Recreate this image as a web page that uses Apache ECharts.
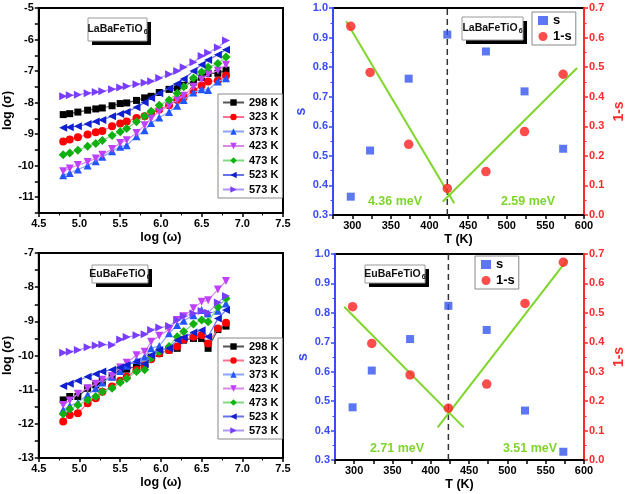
<!DOCTYPE html>
<html><head><meta charset="utf-8">
<script src="https://cdn.jsdelivr.net/npm/echarts@6/dist/echarts.min.js"></script>
<style>html,body{margin:0;padding:0;background:#fff}#c{width:628px;height:494px}</style>
</head><body><div id="c"></div>
<script>
// ---------- data ----------
const logW = [4.8,4.88,4.98,5.1,5.2,5.28,5.4,5.5,5.58,5.7,5.8,5.88,5.98,6.1,6.2,6.28,6.4,6.5,6.58,6.7,6.8];
const tempLabels = ['298 K','323 K','373 K','423 K','473 K','523 K','573 K'];
// LaBaFeTiO6 log(sigma)
const la298 = [-8.38,-8.35,-8.3,-8.24,-8.2,-8.17,-8.1,-8.03,-8.01,-7.93,-7.85,-7.8,-7.68,-7.58,-7.52,-7.45,-7.35,-7.2,-7.07,-7.07,-6.97];
const la323 = [-9.23,-9.17,-9.1,-9.01,-8.94,-8.9,-8.75,-8.66,-8.6,-8.49,-8.43,-8.35,-8.22,-8.08,-7.92,-7.83,-7.62,-7.46,-7.33,-7.3,-7.14];
const la373 = [-10.3,-10.23,-10.12,-9.99,-9.86,-9.72,-9.54,-9.4,-9.35,-9.07,-8.88,-8.65,-8.47,-8.3,-8.1,-7.92,-7.68,-7.58,-7.6,-7.33,-7.23];
const la423 = [-10.18,-10.09,-9.98,-9.88,-9.77,-9.65,-9.47,-9.28,-9.19,-8.96,-8.72,-8.5,-8.28,-8.1,-7.92,-7.78,-7.5,-7.27,-7.1,-6.98,-6.8];
const la473 = [-9.65,-9.6,-9.51,-9.38,-9.3,-9.2,-9.04,-8.92,-8.82,-8.61,-8.43,-8.27,-8.08,-7.92,-7.7,-7.5,-7.22,-7.03,-6.88,-6.76,-6.55];
const la523 = [-8.8,-8.78,-8.75,-8.68,-8.6,-8.55,-8.43,-8.36,-8.3,-8.15,-8.0,-7.85,-7.7,-7.55,-7.4,-7.25,-7.0,-6.8,-6.65,-6.48,-6.32];
const la573 = [-7.8,-7.77,-7.75,-7.7,-7.66,-7.64,-7.58,-7.52,-7.48,-7.42,-7.37,-7.32,-7.22,-7.1,-7.0,-6.88,-6.72,-6.52,-6.42,-6.25,-6.03];
// EuBaFeTiO6 log(sigma)
const eu298 = [-11.3,-11.2,-11.2,-10.96,-10.86,-10.76,-10.62,-10.42,-10.4,-10.31,-10.28,-10.05,-9.94,-9.84,-9.79,-9.55,-9.5,-9.5,-9.79,-9.24,-9.14];
const eu323 = [-11.93,-11.74,-11.69,-11.4,-11.25,-11.06,-10.91,-10.74,-10.62,-10.42,-10.3,-10.11,-9.94,-9.84,-9.74,-9.53,-9.45,-9.4,-9.65,-9.21,-9.04];
const eu373 = [-11.59,-11.47,-11.38,-11.15,-10.96,-10.79,-10.62,-10.45,-10.3,-10.13,-10.04,-9.79,-9.72,-9.35,-9.11,-8.98,-8.82,-8.67,-8.77,-8.69,-8.48];
const eu423 = [-11.45,-11.32,-11.12,-10.96,-10.83,-10.71,-10.6,-10.35,-10.21,-9.99,-9.89,-9.6,-9.42,-9.24,-8.96,-8.85,-8.62,-8.43,-8.38,-8.07,-7.82];
const eu473 = [-11.71,-11.57,-11.45,-11.3,-11.2,-11.06,-10.96,-10.79,-10.67,-10.47,-10.42,-10.08,-9.89,-9.74,-9.45,-9.3,-9.08,-8.96,-9.01,-8.58,-8.33];
const eu523 = [-10.89,-10.83,-10.74,-10.62,-10.54,-10.47,-10.42,-10.35,-10.28,-10.18,-10.25,-9.99,-9.84,-9.79,-9.55,-9.47,-9.33,-9.26,-9.45,-8.92,-8.67];
const eu573 = [-9.92,-9.89,-9.84,-9.76,-9.71,-9.68,-9.69,-9.53,-9.46,-9.41,-9.38,-9.25,-9.18,-9.14,-8.96,-8.85,-8.77,-8.7,-8.75,-8.45,-8.26];
// s and 1-s vs temperature
const temps = [298,323,373,423,473,523,573];
const laS   = [0.362,0.518,0.761,0.91,0.853,0.718,0.524];
const la1mS = [0.638,0.482,0.239,0.09,0.147,0.282,0.476];
const euS   = [0.479,0.604,0.711,0.824,0.742,0.468,0.328];
const eu1mS = [0.521,0.396,0.289,0.176,0.258,0.532,0.672];
// linear fit segments (T, 1-s)
const laFitLow  = [[292,0.655],[432,0.04]];
const laFitHigh = [[417,0.045],[591,0.497]];
const euFitLow  = [[287,0.521],[443,0.111]];
const euFitHigh = [[409,0.111],[578,0.68]];
const transitionT = 423;
const energyLabels = ['4.36 meV','2.59 meV','2.71 meV','3.51 meV'];

// ---------- styles ----------
const FONT = "'Liberation Sans', Arial, sans-serif";
const BLUE = '#3a4bff', RED = '#ff2a2a', GREEN = '#7fd62a';
const seriesStyle = [
  {sym:'rect', rot:0, c:'#000000', l:'#555555', size:7},
  {sym:'circle', rot:0, c:'#ff0000', l:'#ff7090', size:8},
  {sym:'triangle', rot:0, c:'#2255ff', l:'#8ea2ff', size:8},
  {sym:'triangle', rot:180, c:'#c040ff', l:'#d88ae8', size:8},
  {sym:'diamond', rot:0, c:'#10b010', l:'#80d880', size:9},
  {sym:'triangle', rot:90, c:'#1020d0', l:'#6a74e6', size:8},
  {sym:'triangle', rot:-90, c:'#7a3cff', l:'#ae98ff', size:8}
];
const laSets = [la298,la323,la373,la423,la473,la523,la573];
const euSets = [eu298,eu323,eu373,eu423,eu473,eu523,eu573];

const lbl = {fontFamily:FONT, fontWeight:'bold', fontSize:11, color:'#000'};
const nameStyle = {fontFamily:FONT, fontWeight:'bold', fontSize:12.5, color:'#000'};
const isInt = v => Math.abs(v - Math.round(v)) < 1e-6;

function logXAxis(grid){
  return {type:'value', gridIndex:grid, min:4.5, max:7.5, interval:0.5,
    name:'log (ω)', nameLocation:'middle', nameGap:18, nameTextStyle:nameStyle,
    axisLine:{onZero:false, lineStyle:{color:'#000', width:2}},
    axisTick:{length:4, lineStyle:{color:'#000', width:1.5}},
    minorTick:{show:true, splitNumber:2, length:2.5, lineStyle:{color:'#000', width:1}},
    axisLabel:{...lbl, margin:5, formatter:v=>v.toFixed(1)},
    splitLine:{show:false}};
}
function tXAxis(grid){
  return {type:'value', gridIndex:grid, min:275, max:600, interval:25,
    name:'T (K)', nameLocation:'middle', nameGap:18, nameTextStyle:nameStyle,
    axisLine:{onZero:false, lineStyle:{color:'#000', width:2}},
    axisTick:{length:4, lineStyle:{color:'#000', width:1.5}},
    axisLabel:{...lbl, margin:5, formatter:v=>(Math.round(v)%50===0?String(Math.round(v)):'')},
    splitLine:{show:false}};
}
function sigmaYAxis(grid, min, max){
  return {type:'value', gridIndex:grid, min:min, max:max, interval:0.5,
    name:'log (σ)', nameLocation:'middle', nameGap:21, nameTextStyle:nameStyle,
    axisLine:{onZero:false, lineStyle:{color:'#000', width:2}},
    axisTick:{length:4, lineStyle:{color:'#000', width:1.5}},
    axisLabel:{...lbl, margin:5, formatter:v=>(isInt(v)?String(Math.round(v)):'')},
    splitLine:{show:false}};
}
function sYAxis(grid){
  return {type:'value', gridIndex:grid, position:'left', min:0.3, max:1.0, interval:0.1,
    name:'s', nameLocation:'middle', nameGap:25, nameRotate:90, nameTextStyle:{...nameStyle, color:BLUE, fontSize:14},
    axisLine:{onZero:false, lineStyle:{color:BLUE, width:2}},
    axisTick:{length:4, lineStyle:{color:BLUE, width:1.5}},
    minorTick:{show:true, splitNumber:2, length:2.5, lineStyle:{color:BLUE, width:1}},
    axisLabel:{...lbl, color:BLUE, margin:5, formatter:v=>v.toFixed(1)},
    splitLine:{show:false}};
}
function oneMinusSYAxis(grid){
  return {type:'value', gridIndex:grid, position:'right', min:0, max:0.7, interval:0.1,
    name:'1-s', nameLocation:'middle', nameGap:28, nameRotate:90, nameTextStyle:{...nameStyle, color:RED, fontSize:14},
    axisLine:{onZero:false, lineStyle:{color:RED, width:2}},
    axisTick:{length:4, lineStyle:{color:RED, width:1.5}},
    minorTick:{show:true, splitNumber:2, length:2.5, lineStyle:{color:RED, width:1}},
    axisLabel:{...lbl, color:RED, margin:5, formatter:v=>v.toFixed(1)},
    splitLine:{show:false}};
}

const series = [];
function addSigma(sets, xi, yi){
  sets.forEach((arr, k) => {
    const st = seriesStyle[k];
    series.push({type:'line', name:tempLabels[k], xAxisIndex:xi, yAxisIndex:yi,
      data: logW.map((x,i)=>[x, arr[i]]),
      symbol:st.sym, symbolRotate:st.rot, symbolSize:st.size, showSymbol:true,
      itemStyle:{color:st.c}, lineStyle:{color:st.l, width:1.2}, z:2+k});
  });
}
addSigma(laSets, 0, 0);
addSigma(euSets, 2, 3);

function addS(xi, ys, y1s, sArr, oArr, fitA, fitB){
  series.push({type:'line', xAxisIndex:xi, yAxisIndex:ys, silent:true,
    data:[[transitionT,0.3],[transitionT,1.0]], symbol:'none',
    lineStyle:{color:'#333', width:1.5, type:[6,4]}, z:1});
  series.push({type:'line', xAxisIndex:xi, yAxisIndex:y1s, data:fitA, symbol:'none',
    lineStyle:{color:GREEN, width:2}, z:2});
  series.push({type:'line', xAxisIndex:xi, yAxisIndex:y1s, data:fitB, symbol:'none',
    lineStyle:{color:GREEN, width:2}, z:2});
  series.push({type:'scatter', name:'s', xAxisIndex:xi, yAxisIndex:ys,
    data: temps.map((t,i)=>[t, sArr[i]]), symbol:'rect', symbolSize:8,
    itemStyle:{color:'#3355ee'}, z:4});
  series.push({type:'scatter', name:'1-s', xAxisIndex:xi, yAxisIndex:y1s,
    data: temps.map((t,i)=>[t, oArr[i]]), symbol:'circle', symbolSize:9.5,
    itemStyle:{color:'#ff2020'}, z:4});
}
addS(1, 1, 2, laS, la1mS, laFitLow, laFitHigh);
addS(3, 4, 5, euS, eu1mS, euFitLow, euFitHigh);

function tagBox(x, y, w, h, name){
  return [
    {type:'rect', shape:{x:x+4, y:y+4, width:w, height:h}, style:{fill:'#000'}, z:100},
    {type:'rect', shape:{x:x, y:y, width:w, height:h}, style:{fill:'#fff', stroke:'#999', lineWidth:1}, z:101},
    {type:'text', x:x+w/2, y:y+h/2, z:102, style:{
      text:'{a|'+name+'}{b|6}', align:'center', verticalAlign:'middle',
      rich:{a:{fontFamily:FONT, fontWeight:'bold', fontSize:10.5, fill:'#111', lineHeight:14},
            b:{fontFamily:FONT, fontWeight:'bold', fontSize:7, fill:'#111', lineHeight:14, padding:[6,0,0,1]}}}}
  ];
}
function eText(x, y, t){
  return {type:'text', x:x, y:y, z:103, style:{text:t, align:'center', verticalAlign:'middle',
    fontFamily:FONT, fontWeight:'bold', fontSize:12.5, fill:GREEN}};
}

const legendCommon = {orient:'vertical', backgroundColor:'#fff', borderColor:'#888', borderWidth:1,
  textStyle:{fontFamily:FONT, fontWeight:'bold', fontSize:11, color:'#000'}, selectedMode:false};

const option = {
  animation:false,
  backgroundColor:'#fff',
  grid:[
    {left:34, top:8, width:249, height:205, show:true, borderColor:'#000', borderWidth:2, backgroundColor:'transparent'},
    {left:333, top:8, width:251, height:207, show:true, borderColor:'#000', borderWidth:2, backgroundColor:'transparent'},
    {left:35, top:253, width:248, height:205, show:true, borderColor:'#000', borderWidth:2, backgroundColor:'transparent'},
    {left:335, top:254, width:249, height:206, show:true, borderColor:'#000', borderWidth:2, backgroundColor:'transparent'}
  ],
  xAxis:[logXAxis(0), tXAxis(1), logXAxis(2), tXAxis(3)],
  yAxis:[sigmaYAxis(0,-11.5,-5), sYAxis(1), oneMinusSYAxis(1), sigmaYAxis(2,-13,-7), sYAxis(3), oneMinusSYAxis(3)],
  legend:[
    {...legendCommon, data:tempLabels, left:218, top:94, padding:[3,4,3,4], itemWidth:21, itemHeight:8, itemGap:3.5},
    {...legendCommon, data:tempLabels, left:218, top:338, padding:[3,4,3,4], itemWidth:21, itemHeight:8, itemGap:3},
    {...legendCommon, data:['s','1-s'], left:532, top:12, padding:[2,4,2,6], itemWidth:10, itemHeight:9, itemGap:3,
      textStyle:{fontFamily:FONT, fontWeight:'bold', fontSize:13, color:'#000'}},
    {...legendCommon, data:['s','1-s'], left:475, top:256, padding:[2,4,2,6], itemWidth:10, itemHeight:9, itemGap:3,
      textStyle:{fontFamily:FONT, fontWeight:'bold', fontSize:13, color:'#000'}}
  ],
  graphic:[
    ...tagBox(88, 18, 59, 23, 'LaBaFeTiO'),
    ...tagBox(462, 17, 61, 23, 'LaBaFeTiO'),
    ...tagBox(92, 265, 56, 18, 'EuBaFeTiO'),
    ...tagBox(365, 265, 60, 18, 'EuBaFeTiO'),
    eText(395, 202, energyLabels[0]),
    eText(528, 202, energyLabels[1]),
    eText(397, 449, energyLabels[2]),
    eText(530, 449, energyLabels[3])
  ],
  series: series
};
const chart = echarts.init(document.getElementById('c'), null, {renderer:'canvas'});
chart.setOption(option);
</script></body></html>
